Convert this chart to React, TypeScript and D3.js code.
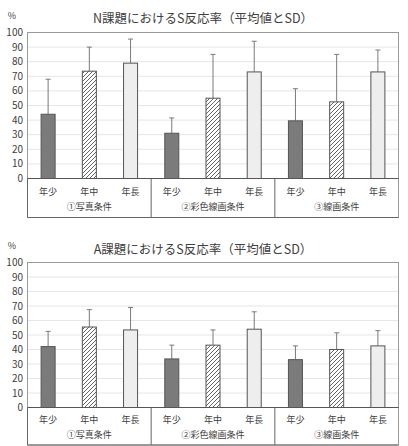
import * as d3 from "d3";

const groups = ["①写真条件", "②彩色線画条件", "③線画条件"];
const ages = ["年少", "年中", "年長"];
const yTicks = [0, 10, 20, 30, 40, 50, 60, 70, 80, 90, 100];

// N課題: mean and SD per group (年少, 年中, 年長)
const nMeans = [44, 73.5, 79, 31, 55, 73, 39.5, 52.5, 73];
const nSD = [24, 16.5, 16.5, 10.5, 30, 21, 22, 32.5, 15];
// A課題
const aMeans = [42, 55.5, 53.5, 33.5, 43, 54, 33, 40, 42.5];
const aSD = [10.5, 12, 15.5, 9.5, 10.5, 12, 9.5, 11.5, 10.5];

const FONT = "'Noto Sans CJK JP', 'Noto Sans', sans-serif";

interface PanelProps {
  title: string;
  means: number[];
  sds: number[];
  top: number;
  base: number;
  bottom: number;
  titleY: number;
}

function Panel({ title, means, sds, top, base, bottom, titleY }: PanelProps) {
  const left = 27.5;
  const right = 398.5;
  const y = d3.scaleLinear().domain([0, 100]).range([base, top]);
  const idx = d3.range(means.length);
  const x = d3.scaleBand<number>().domain(idx).range([left, right]).paddingInner(0.66).paddingOuter(0.33);
  const step = x.step();
  const fills = ["#7b7b7b", "url(#hatch)", "#eeeeee"];

  return (
    <g>
      <text x={203} y={titleY} textAnchor="middle" fontSize={12.5} fill="#404040" fontFamily={FONT}>
        {title}
      </text>
      <text x={12} y={top - 14} textAnchor="middle" fontSize={9} fill="#404040" fontFamily={FONT}>
        %
      </text>
      {yTicks.map((t) => (
        <g key={t}>
          {t > 0 && t < 100 && (
            <line x1={left} x2={right} y1={y(t)} y2={y(t)} stroke="#e6e6e6" strokeWidth={1} />
          )}
          <text x={23} y={y(t) + 3.5} textAnchor="end" fontSize={10} fill="#404040" fontFamily={FONT}>
            {t}
          </text>
        </g>
      ))}
      {idx.map((i) => {
        const bx = x(i) as number;
        const bw = x.bandwidth();
        const cx = bx + bw / 2;
        const yt = y(means[i] + sds[i]);
        return (
          <g key={i}>
            <line x1={cx} x2={cx} y1={y(means[i])} y2={yt} stroke="#7a7a7a" strokeWidth={1} />
            <line x1={cx - 2.5} x2={cx + 2.5} y1={yt} y2={yt} stroke="#7a7a7a" strokeWidth={1} />
            <rect
              x={bx}
              y={y(means[i])}
              width={bw}
              height={base - y(means[i])}
              fill={fills[i % 3]}
              stroke="#555"
              strokeWidth={1}
            />
            <text x={cx} y={(base + bottom) / 2 - 3} textAnchor="middle" fontSize={9} fill="#404040" fontFamily={FONT}>
              {ages[i % 3]}
            </text>
          </g>
        );
      })}
      {groups.map((g, gi) => (
        <text
          key={g}
          x={left + step * (gi * 3 + 1.5)}
          y={(base + bottom) / 2 + 12}
          textAnchor="middle"
          fontSize={9}
          fill="#404040"
          fontFamily={FONT}
        >
          {g}
        </text>
      ))}
      {[1, 2].map((k) => (
        <line key={k} x1={left + step * 3 * k} x2={left + step * 3 * k} y1={base} y2={bottom} stroke="#666" strokeWidth={1} />
      ))}
      <rect x={left} y={top} width={right - left} height={bottom - top} fill="none" stroke="#999" strokeWidth={1} />
      <line x1={left} x2={right} y1={base} y2={base} stroke="#555" strokeWidth={1.2} />
      <line x1={left} x2={left} y1={base} y2={bottom} stroke="#666" strokeWidth={1} />
      <line x1={left} x2={right} y1={bottom} y2={bottom} stroke="#666" strokeWidth={1} />
    </g>
  );
}

export default function App() {
  return (
    <svg width={408} height={446} style={{ position: "absolute", left: 0, top: 0, background: "#fff" }}>
      <defs>
        <pattern id="hatch" patternUnits="userSpaceOnUse" width={4} height={4}>
          <rect width={4} height={4} fill="#fff" />
          <path d="M-1,1 l2,-2 M0,4 l4,-4 M3,5 l2,-2" stroke="#555" strokeWidth={0.9} />
        </pattern>
      </defs>
      <Panel title="N課題におけるS反応率（平均値とSD）" means={nMeans} sds={nSD} top={32.5} base={178.5} bottom={217.5} titleY={23} />
      <Panel title="A課題におけるS反応率（平均値とSD）" means={aMeans} sds={aSD} top={262.5} base={407.5} bottom={445} titleY={254} />
    </svg>
  );
}
